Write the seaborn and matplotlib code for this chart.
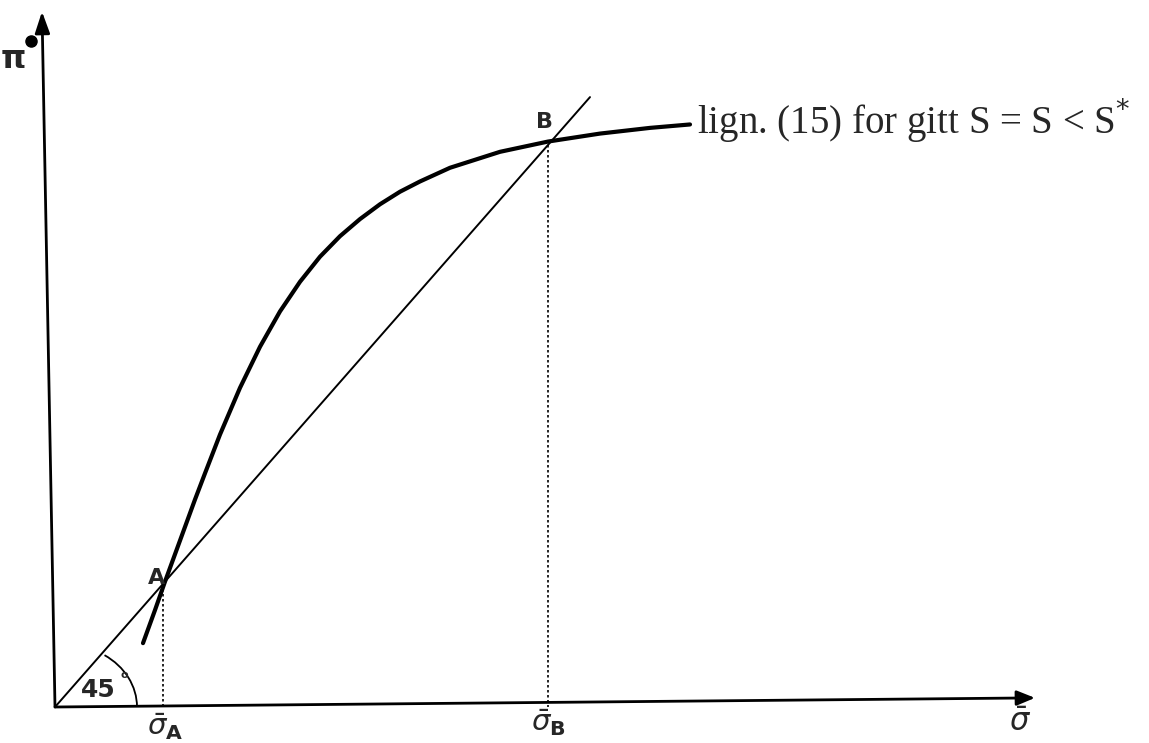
import numpy as np
import pandas as pd
import matplotlib
matplotlib.use("Agg")
import matplotlib.pyplot as plt
from matplotlib.patches import Arc
import seaborn as sns

# curve: lign. (15) for gitt S
sigma_curve = [0.88, 1.00, 1.10, 1.20, 1.30, 1.40, 1.50, 1.65, 1.85, 2.05, 2.25, 2.45,
               2.65, 2.85, 3.05, 3.25, 3.45, 3.65, 3.95, 4.45, 4.93, 5.45, 5.95, 6.35]
pi_curve = [0.56, 0.85, 1.10, 1.34, 1.58, 1.82, 2.05, 2.39, 2.80, 3.16, 3.47, 3.73,
            3.95, 4.13, 4.28, 4.41, 4.52, 4.61, 4.73, 4.87, 4.96, 5.03, 5.08, 5.11]

# 45 degree line
sigma_diag = [0.0, 5.35]
pi_diag = [0.0, 5.35]

# equilibria
points = ["A", "B"]
sigma_points = [1.08, 4.93]
pi_points = [1.08, 4.93]

curve_df = pd.DataFrame({"sigma": sigma_curve, "pi": pi_curve})
diag_df = pd.DataFrame({"sigma": sigma_diag, "pi": pi_diag})

sns.set_style("white")
plt.rcParams['font.family'] = ['DejaVu Sans']

fig = plt.figure(figsize=(11.49, 7.43), dpi=100)
ax = fig.add_axes([0, 0, 1, 1])

# pixel mapping: origin at (55, 707), 100 px per unit on x, 114 px per unit on y
ax.set_xlim(-0.55, 10.94)
ax.set_ylim(-36 / 114, 707 / 114)
ax.axis("off")

sns.lineplot(data=curve_df, x="sigma", y="pi", sort=False, estimator=None,
             color="black", linewidth=3.0, ax=ax)
sns.lineplot(data=diag_df, x="sigma", y="pi", sort=False, estimator=None,
             color="black", linewidth=1.4, ax=ax)

# axes with arrows (scan is slightly tilted)
ax.annotate("", xy=(9.8, 0.08), xytext=(0, 0),
            arrowprops=dict(arrowstyle="-|>,head_length=1.1,head_width=0.45",
                            color="black", lw=2, shrinkA=0, shrinkB=0))
ax.annotate("", xy=(-0.13, 6.1), xytext=(0, 0),
            arrowprops=dict(arrowstyle="-|>,head_length=1.3,head_width=0.45",
                            color="black", lw=2, shrinkA=0, shrinkB=0))

# dotted drop lines
for name, sx, py in zip(points, sigma_points, pi_points):
    ax.plot([sx, sx], [py, 0], color="black", lw=1.2, ls=(0, (1.5, 1.5)))

# point labels
ax.text(1.02, 1.13, "A", fontsize=16, fontweight="bold", ha="center", va="center")
ax.text(4.89, 5.13, "B", fontsize=16, fontweight="bold", ha="center", va="center")

# 45 degree arc
ax.add_patch(Arc((0.1, 0), 1.44, 2 * 62 / 114, theta1=0, theta2=49, color="black", lw=1.3))
ax.text(0.43, 0.15, "45", fontsize=18, fontweight="bold", ha="center", va="center")
ax.text(0.69, 0.28, "o", fontsize=8, fontweight="bold", ha="center", va="center")

# axis labels
ax.text(-0.42, 5.68, "π", fontsize=23, fontweight="bold", ha="center", va="center")
ax.plot([-0.24], [5.84], "o", color="black", markersize=8)
ax.text(9.65, -0.14, r"$\bar{\sigma}$", fontsize=22, ha="center", va="center")
ax.text(1.10, -0.17, r"$\bar{\sigma}_{\mathbf{A}}$", fontsize=21, ha="center", va="center")
ax.text(4.93, -0.14, r"$\bar{\sigma}_{\mathbf{B}}$", fontsize=21, ha="center", va="center")

# equation label
ax.text(6.42, 5.15, "lign. (15) for gitt S = S < S$^{*}$", fontsize=28,
        family="Liberation Serif", ha="left", va="center")

fig.savefig("out.png", dpi=100)
